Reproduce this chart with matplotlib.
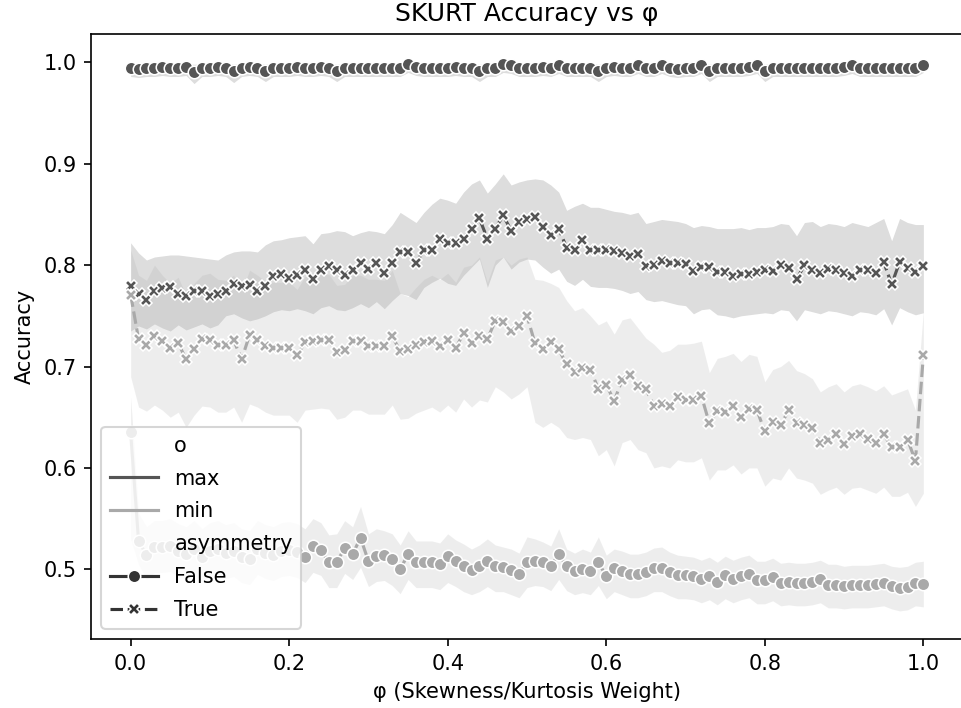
import numpy as np
import matplotlib
matplotlib.use("Agg")
import matplotlib.pyplot as plt
from matplotlib.lines import Line2D

# phi grid (0.00 .. 1.00, step 0.01)
phi = np.linspace(0.0, 1.0, 101)

# ---- o = max, asymmetry = False
max_sym = [0.994, 0.993, 0.994, 0.994, 0.995, 0.994, 0.994, 0.995, 0.990, 0.994,
           0.994, 0.995, 0.994, 0.991, 0.994, 0.995, 0.994, 0.991, 0.994, 0.994,
           0.994, 0.995, 0.994, 0.994, 0.995, 0.994, 0.991, 0.994, 0.994, 0.994,
           0.994, 0.994, 0.994, 0.994, 0.994, 0.998, 0.995, 0.994, 0.994, 0.994,
           0.994, 0.995, 0.994, 0.994, 0.991, 0.994, 0.994, 0.998, 0.997, 0.994,
           0.994, 0.994, 0.995, 0.994, 0.997, 0.994, 0.994, 0.994, 0.994, 0.991,
           0.994, 0.995, 0.994, 0.994, 0.997, 0.994, 0.994, 0.997, 0.994, 0.993,
           0.994, 0.994, 0.997, 0.991, 0.994, 0.994, 0.994, 0.994, 0.995, 0.997,
           0.991, 0.994, 0.994, 0.994, 0.994, 0.994, 0.994, 0.994, 0.994, 0.994,
           0.995, 0.997, 0.994, 0.994, 0.994, 0.994, 0.994, 0.994, 0.994, 0.994,
           0.997]
max_sym_lo = [0.986, 0.985, 0.986, 0.986, 0.987, 0.986, 0.986, 0.987, 0.979, 0.986,
              0.986, 0.987, 0.986, 0.980, 0.986, 0.987, 0.986, 0.981, 0.986, 0.986,
              0.986, 0.987, 0.986, 0.986, 0.987, 0.986, 0.981, 0.986, 0.986, 0.986,
              0.986, 0.986, 0.986, 0.986, 0.986, 0.990, 0.987, 0.986, 0.986, 0.986,
              0.986, 0.987, 0.986, 0.986, 0.981, 0.986, 0.986, 0.990, 0.989, 0.986,
              0.986, 0.986, 0.987, 0.986, 0.989, 0.986, 0.986, 0.986, 0.986, 0.981,
              0.986, 0.987, 0.986, 0.986, 0.989, 0.986, 0.986, 0.989, 0.986, 0.985,
              0.986, 0.986, 0.989, 0.981, 0.986, 0.986, 0.986, 0.986, 0.987, 0.989,
              0.981, 0.986, 0.986, 0.986, 0.986, 0.986, 0.986, 0.986, 0.986, 0.986,
              0.987, 0.989, 0.986, 0.986, 0.986, 0.986, 0.986, 0.986, 0.986, 0.986,
              0.990]
max_sym_hi = [0.999, 0.998, 0.999, 0.999, 0.999, 0.999, 0.999, 0.999, 0.998, 0.999,
              0.999, 0.999, 0.999, 0.998, 0.999, 0.999, 0.999, 0.998, 0.999, 0.999,
              0.999, 0.999, 0.999, 0.999, 0.999, 0.999, 0.998, 0.999, 0.999, 0.999,
              0.999, 0.999, 0.999, 0.999, 0.999, 1.000, 0.999, 0.999, 0.999, 0.999,
              0.999, 0.999, 0.999, 0.999, 0.998, 0.999, 0.999, 1.000, 1.000, 0.999,
              0.999, 0.999, 0.999, 0.999, 1.000, 0.999, 0.999, 0.999, 0.999, 0.998,
              0.999, 0.999, 0.999, 0.999, 1.000, 0.999, 0.999, 1.000, 0.999, 0.999,
              0.999, 0.999, 1.000, 0.998, 0.999, 0.999, 0.999, 0.999, 0.999, 1.000,
              0.998, 0.999, 0.999, 0.999, 0.999, 0.999, 0.999, 0.999, 0.999, 0.999,
              0.999, 1.000, 0.999, 0.999, 0.999, 0.999, 0.999, 0.999, 0.999, 0.999,
              1.000]

# ---- o = max, asymmetry = True
max_asym = [0.779, 0.772, 0.766, 0.774, 0.777, 0.778, 0.772, 0.770, 0.774, 0.774,
            0.770, 0.772, 0.774, 0.781, 0.779, 0.780, 0.774, 0.779, 0.789, 0.791,
            0.787, 0.790, 0.795, 0.786, 0.795, 0.799, 0.795, 0.790, 0.795, 0.802,
            0.796, 0.802, 0.792, 0.802, 0.813, 0.813, 0.802, 0.815, 0.815, 0.826,
            0.822, 0.822, 0.826, 0.836, 0.846, 0.826, 0.836, 0.849, 0.834, 0.843,
            0.845, 0.847, 0.838, 0.830, 0.836, 0.817, 0.815, 0.825, 0.815, 0.815,
            0.815, 0.814, 0.812, 0.809, 0.811, 0.799, 0.800, 0.804, 0.802, 0.802,
            0.801, 0.794, 0.798, 0.798, 0.793, 0.793, 0.789, 0.791, 0.791, 0.793,
            0.795, 0.794, 0.800, 0.797, 0.786, 0.800, 0.795, 0.792, 0.796, 0.795,
            0.792, 0.789, 0.795, 0.795, 0.792, 0.803, 0.781, 0.803, 0.797, 0.793,
            0.799]
max_asym_lo = [0.735, 0.740, 0.737, 0.742, 0.738, 0.735, 0.741, 0.736, 0.739, 0.742,
               0.738, 0.741, 0.750, 0.752, 0.748, 0.745, 0.747, 0.750, 0.754, 0.756,
               0.755, 0.757, 0.755, 0.752, 0.758, 0.760, 0.756, 0.755, 0.758, 0.762,
               0.758, 0.764, 0.757, 0.765, 0.772, 0.770, 0.766, 0.778, 0.783, 0.787,
               0.782, 0.780, 0.790, 0.798, 0.806, 0.778, 0.800, 0.808, 0.796, 0.803,
               0.806, 0.805, 0.798, 0.792, 0.796, 0.784, 0.780, 0.786, 0.779, 0.778,
               0.778, 0.777, 0.775, 0.772, 0.774, 0.766, 0.764, 0.765, 0.763, 0.761,
               0.760, 0.752, 0.756, 0.757, 0.751, 0.750, 0.748, 0.750, 0.751, 0.752,
               0.753, 0.752, 0.756, 0.755, 0.745, 0.756, 0.754, 0.752, 0.755, 0.754,
               0.752, 0.750, 0.754, 0.753, 0.751, 0.757, 0.741, 0.758, 0.754, 0.751,
               0.753]
max_asym_hi = [0.822, 0.812, 0.805, 0.808, 0.809, 0.810, 0.810, 0.809, 0.808, 0.807,
               0.806, 0.805, 0.810, 0.813, 0.814, 0.814, 0.813, 0.820, 0.824, 0.825,
               0.827, 0.828, 0.829, 0.821, 0.831, 0.832, 0.834, 0.833, 0.829, 0.832,
               0.834, 0.833, 0.831, 0.840, 0.852, 0.847, 0.842, 0.852, 0.860, 0.866,
               0.864, 0.861, 0.872, 0.880, 0.884, 0.871, 0.880, 0.890, 0.879, 0.882,
               0.884, 0.885, 0.884, 0.879, 0.872, 0.854, 0.858, 0.861, 0.857, 0.857,
               0.855, 0.853, 0.852, 0.850, 0.852, 0.841, 0.843, 0.845, 0.844, 0.843,
               0.841, 0.837, 0.839, 0.838, 0.836, 0.836, 0.836, 0.837, 0.835, 0.837,
               0.837, 0.838, 0.841, 0.840, 0.829, 0.842, 0.843, 0.838, 0.841, 0.840,
               0.838, 0.842, 0.840, 0.838, 0.842, 0.846, 0.824, 0.846, 0.842, 0.840,
               0.840]

# ---- o = min, asymmetry = False
min_sym = [0.635, 0.528, 0.514, 0.522, 0.522, 0.523, 0.518, 0.515, 0.520, 0.512,
           0.518, 0.520, 0.516, 0.518, 0.512, 0.510, 0.520, 0.516, 0.514, 0.518,
           0.519, 0.517, 0.512, 0.523, 0.519, 0.507, 0.507, 0.521, 0.515, 0.531,
           0.508, 0.513, 0.514, 0.510, 0.500, 0.515, 0.507, 0.507, 0.507, 0.505,
           0.513, 0.508, 0.503, 0.499, 0.503, 0.508, 0.503, 0.502, 0.499, 0.495,
           0.507, 0.508, 0.507, 0.503, 0.515, 0.503, 0.498, 0.500, 0.498, 0.507,
           0.493, 0.501, 0.498, 0.495, 0.495, 0.497, 0.501, 0.501, 0.497, 0.494,
           0.494, 0.493, 0.490, 0.493, 0.488, 0.494, 0.490, 0.493, 0.495, 0.489,
           0.489, 0.492, 0.487, 0.488, 0.487, 0.487, 0.488, 0.490, 0.485, 0.485,
           0.484, 0.485, 0.485, 0.485, 0.486, 0.487, 0.484, 0.482, 0.483, 0.487,
           0.486]
min_sym_lo = [0.530, 0.505, 0.490, 0.497, 0.497, 0.498, 0.493, 0.490, 0.495, 0.488,
              0.493, 0.495, 0.491, 0.493, 0.487, 0.485, 0.495, 0.491, 0.489, 0.493,
              0.494, 0.492, 0.487, 0.497, 0.494, 0.482, 0.482, 0.496, 0.490, 0.502,
              0.483, 0.488, 0.489, 0.484, 0.476, 0.490, 0.482, 0.482, 0.482, 0.480,
              0.487, 0.483, 0.478, 0.475, 0.478, 0.483, 0.478, 0.478, 0.475, 0.472,
              0.482, 0.484, 0.483, 0.479, 0.490, 0.479, 0.475, 0.477, 0.475, 0.484,
              0.471, 0.478, 0.475, 0.472, 0.472, 0.474, 0.478, 0.478, 0.474, 0.471,
              0.471, 0.470, 0.467, 0.470, 0.465, 0.471, 0.467, 0.470, 0.472, 0.466,
              0.466, 0.469, 0.464, 0.465, 0.464, 0.464, 0.465, 0.467, 0.462, 0.462,
              0.461, 0.462, 0.462, 0.462, 0.463, 0.464, 0.461, 0.459, 0.460, 0.464,
              0.463]
min_sym_hi = [0.670, 0.555, 0.542, 0.548, 0.548, 0.550, 0.545, 0.542, 0.548, 0.540,
              0.546, 0.548, 0.544, 0.546, 0.540, 0.538, 0.548, 0.544, 0.542, 0.546,
              0.547, 0.545, 0.540, 0.550, 0.546, 0.534, 0.535, 0.548, 0.542, 0.562,
              0.535, 0.540, 0.538, 0.535, 0.524, 0.538, 0.528, 0.528, 0.528, 0.526,
              0.535, 0.529, 0.525, 0.520, 0.524, 0.530, 0.524, 0.522, 0.520, 0.516,
              0.532, 0.530, 0.527, 0.523, 0.540, 0.520, 0.516, 0.520, 0.517, 0.532,
              0.514, 0.520, 0.518, 0.515, 0.515, 0.517, 0.521, 0.522, 0.517, 0.514,
              0.513, 0.512, 0.509, 0.512, 0.507, 0.513, 0.509, 0.512, 0.514, 0.508,
              0.508, 0.511, 0.506, 0.507, 0.506, 0.506, 0.507, 0.509, 0.505, 0.505,
              0.503, 0.504, 0.504, 0.504, 0.505, 0.506, 0.503, 0.502, 0.503, 0.507,
              0.508]

# ---- o = min, asymmetry = True
min_asym = [0.771, 0.727, 0.721, 0.730, 0.725, 0.718, 0.723, 0.707, 0.717, 0.727,
            0.726, 0.721, 0.721, 0.726, 0.707, 0.731, 0.726, 0.720, 0.718, 0.718,
            0.718, 0.711, 0.724, 0.725, 0.726, 0.726, 0.714, 0.716, 0.725, 0.725,
            0.720, 0.720, 0.720, 0.730, 0.715, 0.717, 0.721, 0.724, 0.725, 0.720,
            0.726, 0.718, 0.733, 0.723, 0.730, 0.727, 0.745, 0.744, 0.735, 0.740,
            0.750, 0.723, 0.717, 0.724, 0.717, 0.702, 0.695, 0.699, 0.697, 0.678,
            0.682, 0.666, 0.687, 0.692, 0.681, 0.678, 0.661, 0.663, 0.661, 0.670,
            0.667, 0.667, 0.671, 0.644, 0.656, 0.655, 0.661, 0.650, 0.658, 0.657,
            0.636, 0.645, 0.642, 0.657, 0.644, 0.642, 0.639, 0.625, 0.628, 0.633,
            0.624, 0.631, 0.633, 0.629, 0.625, 0.633, 0.621, 0.621, 0.628, 0.607,
            0.711]
min_asym_lo = [0.690, 0.660, 0.656, 0.662, 0.657, 0.650, 0.655, 0.640, 0.652, 0.661,
               0.660, 0.655, 0.655, 0.660, 0.645, 0.663, 0.660, 0.655, 0.652, 0.652,
               0.652, 0.645, 0.657, 0.658, 0.659, 0.658, 0.648, 0.650, 0.657, 0.657,
               0.653, 0.653, 0.653, 0.662, 0.648, 0.649, 0.654, 0.657, 0.660, 0.655,
               0.662, 0.655, 0.668, 0.660, 0.667, 0.665, 0.680, 0.675, 0.668, 0.673,
               0.680, 0.645, 0.640, 0.645, 0.640, 0.630, 0.628, 0.630, 0.628, 0.612,
               0.618, 0.602, 0.625, 0.628, 0.618, 0.615, 0.600, 0.602, 0.600, 0.608,
               0.606, 0.606, 0.610, 0.588, 0.598, 0.598, 0.603, 0.594, 0.600, 0.600,
               0.582, 0.590, 0.588, 0.600, 0.590, 0.588, 0.585, 0.574, 0.578, 0.581,
               0.574, 0.580, 0.581, 0.578, 0.575, 0.581, 0.572, 0.572, 0.576, 0.562,
               0.575]
min_asym_hi = [0.815, 0.790, 0.785, 0.800, 0.790, 0.782, 0.788, 0.770, 0.782, 0.790,
               0.792, 0.786, 0.785, 0.790, 0.774, 0.795, 0.790, 0.784, 0.783, 0.783,
               0.783, 0.776, 0.789, 0.790, 0.791, 0.791, 0.780, 0.781, 0.790, 0.790,
               0.786, 0.786, 0.785, 0.795, 0.772, 0.769, 0.778, 0.786, 0.790, 0.786,
               0.792, 0.783, 0.798, 0.800, 0.808, 0.783, 0.805, 0.808, 0.800, 0.806,
               0.808, 0.786, 0.785, 0.782, 0.778, 0.765, 0.755, 0.758, 0.750, 0.741,
               0.745, 0.732, 0.746, 0.748, 0.738, 0.728, 0.722, 0.714, 0.716, 0.722,
               0.722, 0.723, 0.725, 0.694, 0.708, 0.710, 0.713, 0.705, 0.712, 0.710,
               0.685, 0.697, 0.700, 0.706, 0.696, 0.693, 0.688, 0.675, 0.680, 0.683,
               0.675, 0.681, 0.683, 0.680, 0.676, 0.681, 0.672, 0.675, 0.678, 0.657,
               0.755]

DARK = "#555555"
LIGHT = "#a9a9a9"
DASH = (0, (4, 1.5))

# (hue, style) in seaborn's drawing order
series = [
    (max_sym, max_sym_lo, max_sym_hi, DARK, "o", "-"),
    (max_asym, max_asym_lo, max_asym_hi, DARK, "X", DASH),
    (min_sym, min_sym_lo, min_sym_hi, LIGHT, "o", "-"),
    (min_asym, min_asym_lo, min_asym_hi, LIGHT, "X", DASH),
]

fig = plt.figure(figsize=(961 / 150, 708 / 150), dpi=150)
ax = fig.add_axes([91 / 961, 69 / 708, 872 / 961, 605 / 708])

for mean, lo, hi, col, mk, ls in series:
    ax.plot(phi, mean, color=col, marker=mk, linestyle=ls, lw=1.5,
            markeredgecolor="w", markeredgewidth=0.75)
    ax.fill_between(phi, lo, hi, color=col, alpha=0.2, linewidth=0)

ax.set_xlim(-0.05, 1.05)
ax.set_ylim(0.4313, 1.0279)
ax.set_title("SKURT Accuracy vs φ")
ax.set_xlabel("φ (Skewness/Kurtosis Weight)")
ax.set_ylabel("Accuracy")

# seaborn-style legend: hue block then style block, subtitles as blank rows
blank = Line2D([], [], linestyle="", marker="")
handles = [
    blank,
    Line2D([], [], color=DARK, lw=1.5),
    Line2D([], [], color=LIGHT, lw=1.5),
    blank,
    Line2D([], [], color=".2", lw=1.5, marker="o", markeredgecolor="w",
           markeredgewidth=0.75),
    Line2D([], [], color=".2", lw=1.5, marker="X", linestyle=DASH,
           markeredgecolor="w", markeredgewidth=0.75),
]
labels = ["o", "max", "min", "asymmetry", "False", "True"]
ax.legend(handles, labels, loc="lower left", labelspacing=0.62,
          handlelength=2.3)

fig.savefig("out.png", dpi=150)
